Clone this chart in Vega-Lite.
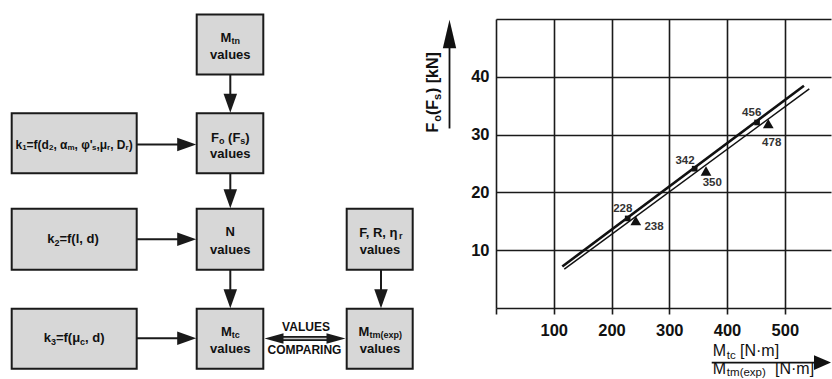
{
  "$schema": "https://vega.github.io/schema/vega-lite/v6.json",
  "padding": {"left": 0, "top": 11, "right": 0, "bottom": 0},
  "bounds": "flush",
  "spacing": 76,
  "config": {"view": {"stroke": null}, "font": "Liberation Sans", "text": {"color": "#111111"}},
  "datasets": {
    "boxes": [
      {"x": 196.7, "x2": 263.3, "y": 13, "y2": 73},
      {"x": 196.7, "x2": 263.3, "y": 111.7, "y2": 171.7},
      {"x": 11.7, "x2": 136.7, "y": 111.7, "y2": 171.7},
      {"x": 196.7, "x2": 263.3, "y": 207.3, "y2": 268.3},
      {"x": 11.7, "x2": 136.7, "y": 207.3, "y2": 268.3},
      {"x": 346.7, "x2": 412.7, "y": 207.3, "y2": 268.3},
      {"x": 196.7, "x2": 263.3, "y": 307.3, "y2": 367.3},
      {"x": 11.7, "x2": 136.7, "y": 307.3, "y2": 367.3},
      {"x": 346.7, "x2": 412.7, "y": 307.3, "y2": 367.3}
    ],
    "shafts": [
      {"x": 230.3, "y": 73, "x2": 230.3, "y2": 100},
      {"x": 230.3, "y": 171.7, "x2": 230.3, "y2": 196},
      {"x": 230.3, "y": 268.3, "x2": 230.3, "y2": 296},
      {"x": 381, "y": 268.3, "x2": 381, "y2": 296},
      {"x": 136.7, "y": 143, "x2": 186, "y2": 143},
      {"x": 136.7, "y": 237.7, "x2": 186, "y2": 237.7},
      {"x": 136.7, "y": 336.7, "x2": 186, "y2": 336.7}
    ],
    "heads": [
      {"x": 230.3, "y": 101.7, "dir": "down"},
      {"x": 230.3, "y": 197.3, "dir": "down"},
      {"x": 230.3, "y": 297.3, "dir": "down"},
      {"x": 381, "y": 297.3, "dir": "down"},
      {"x": 186.7, "y": 143, "dir": "right"},
      {"x": 186.7, "y": 237.7, "dir": "right"},
      {"x": 186.7, "y": 336.7, "dir": "right"},
      {"x": 274, "y": 337, "dir": "left2"},
      {"x": 336, "y": 337, "dir": "right2"}
    ],
    "cmp": [{"x": 279, "x2": 331, "y": 337}],
    "mainL": [
      {"x": 220.6, "y": 36, "t": "M"},
      {"x": 211, "y": 136, "t": "F"},
      {"x": 228.1, "y": 136, "t": "(F"},
      {"x": 245.3, "y": 136, "t": ")"},
      {"x": 47.2, "y": 237.7, "t": "k"},
      {"x": 59.4, "y": 237.7, "t": "=f(l, d)"},
      {"x": 43.7, "y": 336.7, "t": "k"},
      {"x": 55.9, "y": 336.7, "t": "=f(μ"},
      {"x": 85.1, "y": 336.7, "t": ", d)"},
      {"x": 359.2, "y": 231, "t": "F, R, η"},
      {"x": 220.9, "y": 330, "t": "M"},
      {"x": 358.6, "y": 330, "t": "M"}
    ],
    "subL": [
      {"x": 231.4, "y": 39.5, "t": "tn"},
      {"x": 218.9, "y": 139.5, "t": "o"},
      {"x": 240.3, "y": 139.5, "t": "s"},
      {"x": 54.4, "y": 241.2, "t": "2"},
      {"x": 50.9, "y": 340.2, "t": "3"},
      {"x": 80.1, "y": 340.2, "t": "c"},
      {"x": 398.9, "y": 234.5, "t": "r"},
      {"x": 231.7, "y": 333.5, "t": "tc"},
      {"x": 369.4, "y": 333.5, "t": "tm(exp)"}
    ],
    "k1main": [
      {"x": 15.5, "y": 143, "t": "k"},
      {"x": 26.6, "y": 143, "t": "=f(d"},
      {"x": 53.4, "y": 143, "t": ", α"},
      {"x": 74.6, "y": 143, "t": ", φ'"},
      {"x": 96.4, "y": 143, "t": ",μ"},
      {"x": 110.2, "y": 143, "t": ", D"},
      {"x": 128.7, "y": 143, "t": ")"}
    ],
    "k1sub": [
      {"x": 22.2, "y": 146.3, "t": "1"},
      {"x": 49.0, "y": 146.3, "t": "2"},
      {"x": 67.5, "y": 146.3, "t": "m"},
      {"x": 92.0, "y": 146.3, "t": "s"},
      {"x": 107.1, "y": 146.3, "t": "r"},
      {"x": 125.6, "y": 146.3, "t": "r"}
    ],
    "centerT": [
      {"x": 230.3, "y": 53.5, "t": "values"},
      {"x": 230.3, "y": 152, "t": "values"},
      {"x": 230.3, "y": 230, "t": "N"},
      {"x": 230.3, "y": 248, "t": "values"},
      {"x": 380, "y": 248, "t": "values"},
      {"x": 230.3, "y": 347, "t": "values"},
      {"x": 380, "y": 347, "t": "values"}
    ],
    "cmpT": [
      {"x": 306, "y": 325, "t": "VALUES"},
      {"x": 304.5, "y": 348.5, "t": "COMPARING"}
    ],
    "upper": [{"x": 114.8, "y": 7.18}, {"x": 533.2, "y": 38.44}],
    "lower": [{"x": 118.2, "y": 6.71}, {"x": 542.4, "y": 37.92}],
    "squares": [{"x": 228, "y": 15.5}, {"x": 344, "y": 24.1}, {"x": 452, "y": 32.1}],
    "triangles": [{"x": 242, "y": 15.1}, {"x": 363.6, "y": 23.7}, {"x": 471.4, "y": 31.9}],
    "ptLabels": [
      {"x": 219.4, "y": 17.16, "t": "228"},
      {"x": 273.5, "y": 14.1, "t": "238"},
      {"x": 327.2, "y": 25.47, "t": "342"},
      {"x": 374.5, "y": 21.59, "t": "350"},
      {"x": 442.7, "y": 33.82, "t": "456"},
      {"x": 477.3, "y": 28.51, "t": "478"}
    ],
    "yTitleMain": [
      {"x": -109.1, "y": 30.36, "t": "F"},
      {"x": -109.1, "y": 33.39, "t": "(F"},
      {"x": -109.1, "y": 37.2, "t": ") [kN]"}
    ],
    "yTitleSub": [
      {"x": -100.4, "y": 32.23, "t": "o"},
      {"x": -100.4, "y": 36.0, "t": "s"}
    ],
    "yArrow": [{"x": -80.5, "y": 31.06, "y2": 45.07}],
    "yHead": [{"x": -80.5, "y": 47.4}],
    "xTitleMain": [
      {"x": 375.2, "y": -8.3, "t": "M"},
      {"x": 422.4, "y": -8.3, "t": "[N·m]"},
      {"x": 375.2, "y": -11.45, "t": "M"},
      {"x": 483.0, "y": -11.45, "t": "[N·m]"}
    ],
    "xTitleSub": [
      {"x": 399.7, "y": -8.9, "t": "tc"},
      {"x": 399.7, "y": -11.85, "t": "tm(exp)"}
    ],
    "xArrow": [{"x": 373.5, "x2": 555.8, "y": -9.45}],
    "xHead": [{"x": 565.3, "y": -9.45}]
  },
  "hconcat": [
    {
      "width": 420,
      "height": 289,
      "encoding": {
        "x": {"field": "x", "type": "quantitative", "scale": {"domain": [0, 420], "nice": false, "zero": false}, "axis": null},
        "y": {"field": "y", "type": "quantitative", "scale": {"domain": [17.5, 306.5], "nice": false, "zero": false, "reverse": true}, "axis": null}
      },
      "layer": [
        {"data": {"name": "shafts"}, "mark": {"type": "rule", "color": "#1a1a1a", "strokeWidth": 2}, "encoding": {"x2": {"field": "x2"}, "y2": {"field": "y2"}}},
        {"data": {"name": "cmp"}, "mark": {"type": "rule", "color": "#1a1a1a", "strokeWidth": 5}, "encoding": {"x2": {"field": "x2"}}},
        {"data": {"name": "cmp"}, "mark": {"type": "rule", "color": "#c4c4c4", "strokeWidth": 1.5}, "encoding": {"x2": {"field": "x2"}}},
        {"data": {"name": "boxes"}, "mark": {"type": "rect", "fill": "#d7d7d7", "stroke": "#1a1a1a", "strokeWidth": 2}, "encoding": {"x2": {"field": "x2"}, "y2": {"field": "y2"}}},
        {"data": {"name": "heads"}, "mark": {"type": "point", "filled": true, "opacity": 1, "color": "#1a1a1a", "size": 361},
         "encoding": {"shape": {"field": "dir", "type": "nominal", "legend": null,
           "scale": {"domain": ["down", "right", "left2", "right2"], "range": ["M-0.71,-1L0.71,-1L0,1Z", "M-1,-0.71L1,0L-1,0.71Z", "M1,-0.55L-1,0L1,0.55Z", "M-1,-0.55L1,0L-1,0.55Z"]}}}},
        {"data": {"name": "mainL"}, "mark": {"type": "text", "align": "left", "baseline": "middle", "fontSize": 13, "fontWeight": "bold"}, "encoding": {"text": {"field": "t", "type": "nominal"}}},
        {"data": {"name": "subL"}, "mark": {"type": "text", "align": "left", "baseline": "middle", "fontSize": 9, "fontWeight": "bold"}, "encoding": {"text": {"field": "t", "type": "nominal"}}},
        {"data": {"name": "k1main"}, "mark": {"type": "text", "align": "left", "baseline": "middle", "fontSize": 12, "fontWeight": "bold"}, "encoding": {"text": {"field": "t", "type": "nominal"}}},
        {"data": {"name": "k1sub"}, "mark": {"type": "text", "align": "left", "baseline": "middle", "fontSize": 8, "fontWeight": "bold"}, "encoding": {"text": {"field": "t", "type": "nominal"}}},
        {"data": {"name": "centerT"}, "mark": {"type": "text", "align": "center", "baseline": "middle", "fontSize": 13, "fontWeight": "bold"}, "encoding": {"text": {"field": "t", "type": "nominal"}}},
        {"data": {"name": "cmpT"}, "mark": {"type": "text", "align": "center", "baseline": "middle", "fontSize": 12, "fontWeight": "bold"}, "encoding": {"text": {"field": "t", "type": "nominal"}}}
      ]
    },
    {
      "width": 335,
      "height": 289,
      "encoding": {
        "x": {"field": "x", "type": "quantitative", "scale": {"domain": [0, 580], "nice": false, "zero": false},
          "axis": {"values": [0, 100, 200, 300, 400, 500], "title": null, "grid": true, "gridColor": "#1a1a1a", "gridWidth": 1.6, "gridOpacity": 1,
            "domain": false, "ticks": true, "tickSize": 6, "tickColor": "#1a1a1a", "tickWidth": 1.6,
            "labelExpr": "datum.value == 0 ? '' : datum.label", "labelFontSize": 16.5, "labelFontWeight": "bold", "labelColor": "#111111",
            "labelPadding": 8, "labelFlush": false, "labelOverlap": false}},
        "y": {"field": "y", "type": "quantitative", "scale": {"domain": [0, 50], "nice": false, "zero": false},
          "axis": {"values": [0, 10, 20, 30, 40, 50], "title": null, "grid": true, "gridColor": "#1a1a1a", "gridWidth": 1.6, "gridOpacity": 1,
            "domain": false, "ticks": false, "tickSize": 0,
            "labelExpr": "datum.value == 0 || datum.value == 50 ? '' : datum.label", "labelFontSize": 16.5, "labelFontWeight": "bold", "labelColor": "#111111",
            "labelPadding": 7, "labelFlush": false, "labelOverlap": false}}
      },
      "layer": [
        {"data": {"name": "upper"}, "mark": {"type": "line", "color": "#111111", "strokeWidth": 2.6}},
        {"data": {"name": "lower"}, "mark": {"type": "line", "color": "#111111", "strokeWidth": 1.5}},
        {"data": {"name": "squares"}, "mark": {"type": "point", "shape": "square", "filled": true, "opacity": 1, "color": "#111111", "size": 32}},
        {"data": {"name": "triangles"}, "mark": {"type": "point", "shape": "triangle-up", "filled": true, "opacity": 1, "color": "#111111", "size": 115}},
        {"data": {"name": "ptLabels"}, "mark": {"type": "text", "align": "center", "baseline": "middle", "fontSize": 11.5, "fontWeight": "bold", "color": "#333333"}, "encoding": {"text": {"field": "t", "type": "nominal"}}},
        {"data": {"name": "yTitleMain"}, "mark": {"type": "text", "angle": 270, "align": "left", "baseline": "middle", "fontSize": 16, "fontWeight": "bold"}, "encoding": {"text": {"field": "t", "type": "nominal"}}},
        {"data": {"name": "yTitleSub"}, "mark": {"type": "text", "angle": 270, "align": "left", "baseline": "middle", "fontSize": 11, "fontWeight": "bold"}, "encoding": {"text": {"field": "t", "type": "nominal"}}},
        {"data": {"name": "yArrow"}, "mark": {"type": "rule", "color": "#111111", "strokeWidth": 1.8}, "encoding": {"y2": {"field": "y2"}}},
        {"data": {"name": "yHead"}, "mark": {"type": "point", "shape": "M0,-1L0.47,1L-0.47,1Z", "filled": true, "opacity": 1, "color": "#111111", "size": 807}},
        {"data": {"name": "xTitleMain"}, "mark": {"type": "text", "align": "left", "baseline": "alphabetic", "fontSize": 16}, "encoding": {"text": {"field": "t", "type": "nominal"}}},
        {"data": {"name": "xTitleSub"}, "mark": {"type": "text", "align": "left", "baseline": "alphabetic", "fontSize": 11.5}, "encoding": {"text": {"field": "t", "type": "nominal"}}},
        {"data": {"name": "xArrow"}, "mark": {"type": "rule", "color": "#111111", "strokeWidth": 1.8}, "encoding": {"x2": {"field": "x2"}}},
        {"data": {"name": "xHead"}, "mark": {"type": "point", "shape": "M1,0L-1,-0.88L-1,0.88Z", "filled": true, "opacity": 1, "color": "#111111", "size": 289}}
      ]
    }
  ]
}
